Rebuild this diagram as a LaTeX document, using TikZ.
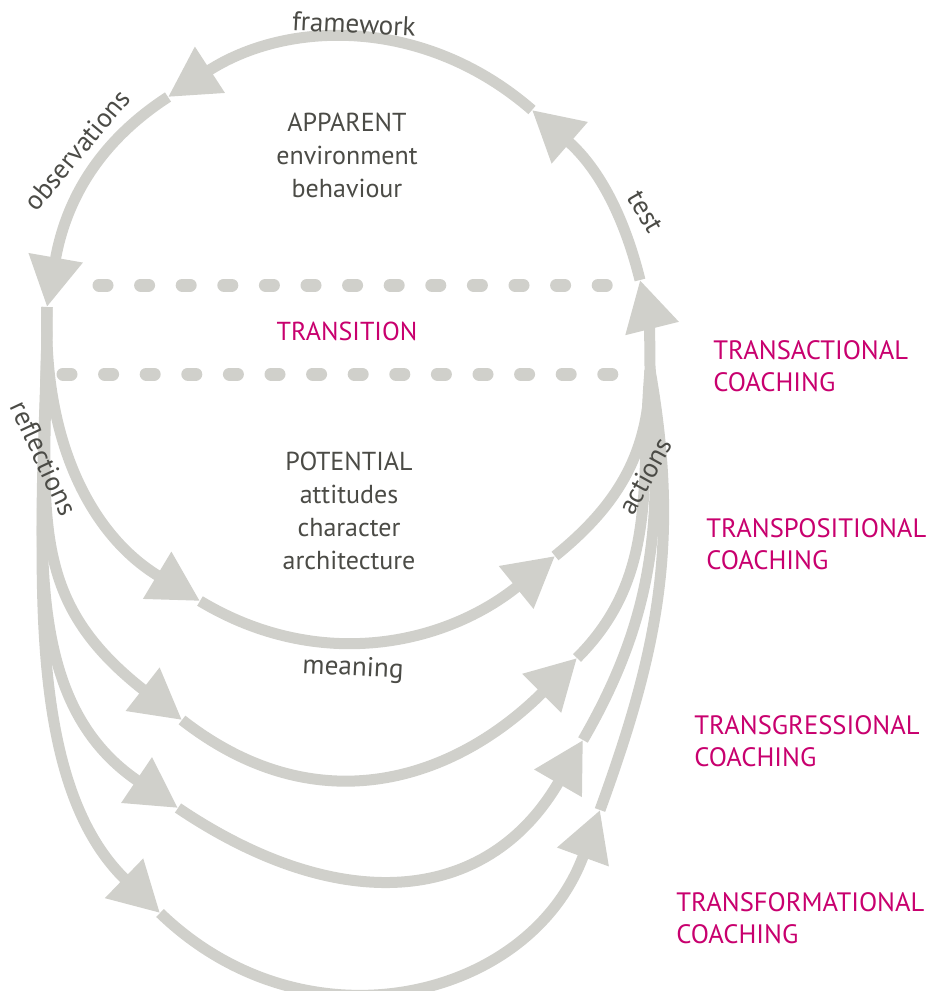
\documentclass[tikz,border=0pt]{standalone}
\usepackage{fontspec}
\setmainfont{PT Sans}
\usetikzlibrary{arrows.meta}

\definecolor{loopgrey}{RGB}{208,208,203}
\definecolor{inkgrey}{RGB}{75,75,70}
\definecolor{coachpink}{RGB}{200,0,110}

\tikzset{
  flow/.style={draw=loopgrey, line width=5.5pt},
  tip/.style={-{Triangle[length=25pt,width=26pt]}},
  border/.style={draw=loopgrey, line width=6.5pt, line cap=round,
    dash pattern=on 4pt off 16.8pt},
  word/.style={text=inkgrey, inner sep=0pt, align=center,
    font=\fontsize{13}{16.5}\selectfont},
  onloop/.style={word, font=\fontsize{13.6}{16.5}\selectfont},
  coach/.style={text=coachpink, inner sep=0pt, align=left, anchor=west,
    font=\fontsize{13.3}{16}\selectfont}
}

\begin{document}
\begin{tikzpicture}[x=0.5pt,y=0.5pt]
  \useasboundingbox (0,0) rectangle (931,-991);

  % junctions and arrow tips
  \coordinate (jl) at (47,-307);
  \coordinate (jr) at (650,-370);
  \coordinate (a1) at (640,-280);
  \coordinate (a2) at (532,-110);
  \coordinate (a3) at (168,-97);
  \coordinate (b1) at (200,-601);
  \coordinate (c1) at (555,-556);
  \coordinate (b2) at (182,-720);
  \coordinate (c2) at (577,-658);
  \coordinate (b3) at (178,-808);
  \coordinate (c3) at (583,-740);
  \coordinate (b4) at (160,-913);
  \coordinate (c4) at (600,-810);

  % upper half, right to left
  \draw[flow,tip] (jr) to[out=90,in=-76] (a1);
  \draw[flow,tip] (a1) to[out=104,in=-41] (a2);
  \draw[flow,tip] (a2) to[out=139,in=33] (a3);
  \draw[flow,tip] (a3) to[out=213,in=80] (jl);

  % the four lower loops
  \draw[flow,tip] (jl) to[out=-92,in=149] (b1);
  \draw[flow,tip] (b1) to[out=-31,in=219] (c1);
  \draw[flow] (c1) to[out=39,in=-90] (jr);

  \draw[flow,tip] (jl) to[out=-90,in=142,looseness=1.2] (b2);
  \draw[flow,tip] (b2) to[out=-38,in=225,looseness=1.1] (c2);
  \draw[flow] (c2) to[out=45,in=-95] (jr);

  \draw[flow,tip] (jl) to[out=-90,in=146] (b3);
  \draw[flow,tip] (b3) to[out=-34,in=240,looseness=1.2] (c3);
  \draw[flow] (c3) to[out=60,in=-85] (jr);

  \draw[flow,tip] (jl) to[out=-90,in=136,looseness=0.85] (b4);
  \draw[flow,tip] (b4) to[out=-44,in=250,looseness=1.15] (c4);
  \draw[flow] (c4) to[out=70,in=-80] (jr);

  % dashed band
  \coordinate (up1) at (99,-285);
  \coordinate (up2) at (616,-285);
  \coordinate (lo1) at (63,-374);
  \coordinate (lo2) at (614,-374);
  \draw[border] (up1) -- (up2);
  \draw[border] (lo1) -- (lo2);

  % texts inside
  \node[word] (apparent) at (347,-155.5) {APPARENT\\environment\\behaviour};
  \node[word,text=coachpink] (transition) at (347,-331) {TRANSITION};
  \node[word] (potential) at (349,-511) {POTENTIAL\\attitudes\\character\\architecture};

  % labels on the loop
  \node[onloop,rotate=-3] (framework) at (354,-24) {framework};
  \node[onloop,rotate=50] (observations) at (77,-150) {observations};
  \node[onloop,rotate=-60] (test) at (645,-212) {test};
  \node[onloop,rotate=-65] (reflections) at (44,-458) {reflections};
  \node[onloop,rotate=61] (actions) at (645,-476) {actions};
  \node[onloop,rotate=-3] (meaning) at (353,-669) {meaning};

  % coaching levels
  \node[coach] (tact) at (713,-366.5) {TRANSACTIONAL\\COACHING};
  \node[coach] (tpos) at (706,-544.5) {TRANSPOSITIONAL\\COACHING};
  \node[coach] (tgress) at (694,-741) {TRANSGRESSIONAL\\COACHING};
  \node[coach] (tform) at (676,-918) {TRANSFORMATIONAL\\COACHING};
\end{tikzpicture}
\end{document}
